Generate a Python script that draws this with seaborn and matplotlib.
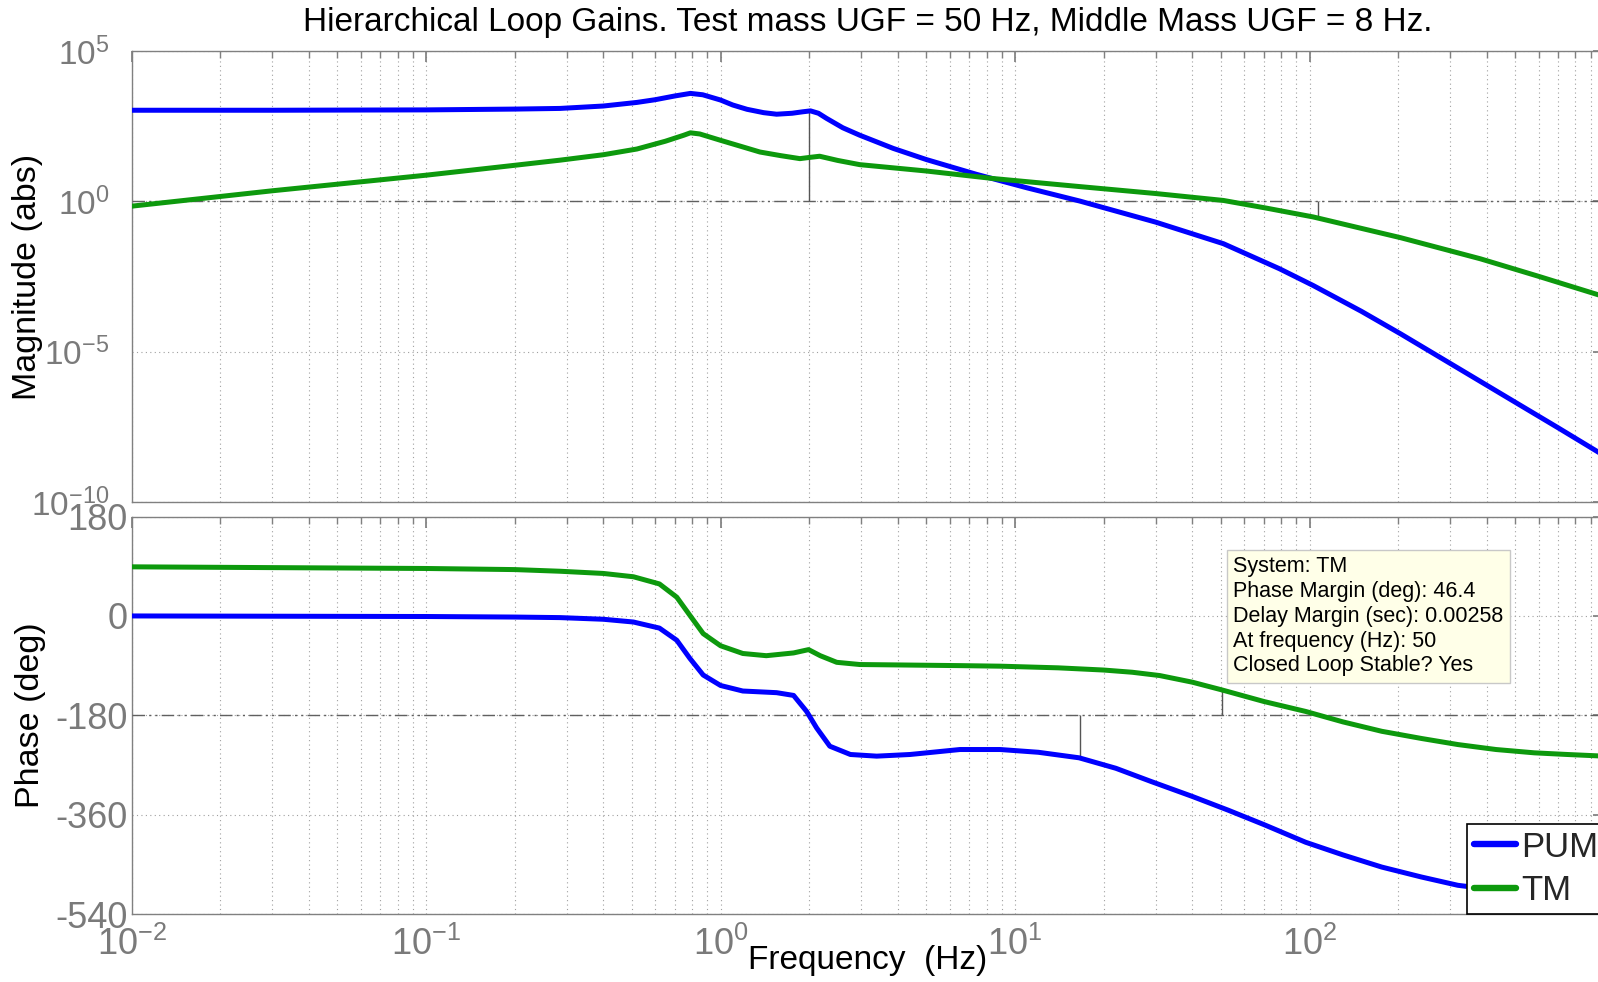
import numpy as np
import pandas as pd
import matplotlib
matplotlib.use("Agg")
import matplotlib.pyplot as plt
import seaborn as sns
from matplotlib.ticker import LogLocator, NullFormatter, NullLocator, FixedLocator

# ---------------- data ----------------
pum_mag_f = [0.01, 0.03, 0.1, 0.2, 0.285, 0.4, 0.52, 0.6, 0.7, 0.79, 0.87, 1.0, 1.1, 1.23, 1.4,
             1.55, 1.75, 1.9, 2.02, 2.15, 2.29, 2.6, 2.97, 3.86, 5.0, 7.4, 11, 16.6, 30, 51,
             79, 103, 150, 204, 292, 491, 700, 1000]
pum_mag = [1.07e3, 1.07e3, 1.10e3, 1.17e3, 1.23e3, 1.48e3, 1.95e3, 2.4e3, 3.2e3, 3.89e3,
           3.5e3, 2.34e3, 1.6e3, 1.15e3, 8.9e2, 7.9e2, 8.5e2, 9.5e2, 1.02e3, 8.5e2, 5.75e2,
           2.8e2, 1.58e2, 57.5, 24.5, 7.9, 2.8, 1.02, 0.204, 0.039, 5.75e-3, 1.58e-3, 2.2e-4,
           3.9e-5, 4.8e-6, 2.3e-7, 2.9e-8, 3.5e-9]

tm_mag_f = [0.01, 0.03, 0.1, 0.2, 0.285, 0.4, 0.52, 0.65, 0.75, 0.79, 0.85, 1.0, 1.2, 1.36,
            1.6, 1.86, 2.0, 2.17, 2.5, 2.97, 5.0, 8.4, 16.6, 30, 51, 71, 103, 204, 380, 600,
            1000]
tm_mag = [0.69, 2.24, 7.4, 15.8, 23.4, 35.5, 55, 100, 158, 190, 174, 107, 63, 43.7, 33.1,
          26.3, 28.8, 31.6, 22.9, 16.6, 10.2, 5.75, 3.09, 1.82, 1.07, 0.6, 0.302, 0.0617,
          0.0123, 3.2e-3, 6.8e-4]

pum_ph_f = [0.01, 0.1, 0.2, 0.285, 0.4, 0.506, 0.62, 0.71, 0.787, 0.873, 1.0, 1.19, 1.55, 1.77,
            1.96, 2.12, 2.35, 2.76, 3.39, 4.4, 6.5, 8.9, 12, 16.5, 22, 29, 40, 53, 70, 97, 130,
            176, 240, 319, 450, 600, 1000]
pum_ph = [0, -1, -2, -3, -6, -11, -22, -44, -77, -107, -126, -136, -139, -144, -173, -203,
          -236, -251, -254, -251, -242, -242, -247, -257, -276, -300, -327, -352, -378, -410,
          -433, -455, -473, -488, -498, -505, -515]

tm_ph_f = [0.01, 0.1, 0.2, 0.285, 0.4, 0.506, 0.62, 0.71, 0.787, 0.873, 1.0, 1.19, 1.43, 1.77,
           1.99, 2.18, 2.48, 2.97, 6.5, 8.9, 14, 20, 25, 31, 40, 50.4, 70, 97, 130, 176, 240,
           319, 430, 580, 750, 1000]
tm_ph = [89, 86, 84, 81, 77, 71, 58, 34, 1, -32, -54, -68, -72, -67, -61, -72, -84, -88, -90,
         -91, -94, -98, -102, -108, -120, -134, -155, -173, -192, -209, -222, -233, -242,
         -248, -251, -254]

# margin markers (frequency, value on curve)
mag_marker_f = [2.0, 107]
mag_marker_v = [1.02e3, 0.28]
ph_marker_f = [16.6, 50.4]
ph_marker_v = [-257, -134]

series_names = ["PUM", "TM"]
series_colors = ["#0000ff", "#0d990d"]

mag_ticks = [1e-10, 1e-5, 1e0, 1e5]
mag_ticklabels = [r"$\mathregular{10^{-10}}$", r"$\mathregular{10^{-5}}$",
                  r"$\mathregular{10^{0}}$", r"$\mathregular{10^{5}}$"]
ph_ticks = [-540, -360, -180, 0, 180]
ph_ticklabels = ["-540", "-360", "-180", "0", "180"]
f_ticks = [1e-2, 1e-1, 1e0, 1e1, 1e2]
f_ticklabels = [r"$\mathregular{10^{-2}}$", r"$\mathregular{10^{-1}}$",
                r"$\mathregular{10^{0}}$", r"$\mathregular{10^{1}}$", r"$\mathregular{10^{2}}$"]

title = "Hierarchical Loop Gains. Test mass UGF = 50 Hz, Middle Mass UGF = 8 Hz."
info_text = ("System: TM\nPhase Margin (deg): 46.4\nDelay Margin (sec): 0.00258\n"
             "At frequency (Hz): 50\nClosed Loop Stable? Yes")

# ---------------- style ----------------
sns.set_theme(style="white")
plt.rcParams["font.family"] = ["Liberation Sans", "DejaVu Sans"]
plt.rcParams["mathtext.fontset"] = "custom"
plt.rcParams["mathtext.rm"] = "Liberation Sans"
plt.rcParams["mathtext.it"] = "Liberation Sans:italic"
plt.rcParams["axes.unicode_minus"] = False

W, H = 1598, 982
fig = plt.figure(figsize=(W / 100, H / 100), dpi=100)
left = 131.6 / W
width = 1472.4 / W
ax1 = fig.add_axes([left, (H - 502) / H, width, (502 - 51) / H])
ax2 = fig.add_axes([left, (H - 914) / H, width, (914 - 516.6) / H])

grid_c = "#a0a0a0"
spine_c = "#808080"
tick_c = "#7a7a7a"
lw = 3.6

df_mag = pd.concat([
    pd.DataFrame({"f": pum_mag_f, "v": pum_mag, "sys": "PUM"}),
    pd.DataFrame({"f": tm_mag_f, "v": tm_mag, "sys": "TM"}),
])
df_ph = pd.concat([
    pd.DataFrame({"f": pum_ph_f, "v": pum_ph, "sys": "PUM"}),
    pd.DataFrame({"f": tm_ph_f, "v": tm_ph, "sys": "TM"}),
])
pal = dict(zip(series_names, series_colors))

for ax in (ax1, ax2):
    ax.set_xscale("log")
ax1.set_yscale("log")

sns.lineplot(data=df_mag, x="f", y="v", hue="sys", palette=pal, estimator=None, sort=False,
             linewidth=lw, ax=ax1, legend=False, zorder=5)
sns.lineplot(data=df_ph, x="f", y="v", hue="sys", palette=pal, estimator=None, sort=False,
             linewidth=lw, ax=ax2, legend=True, zorder=5)
for ax in (ax1, ax2):
    for ln in ax.get_lines():
        ln.set_solid_joinstyle("round")
        ln.set_solid_capstyle("round")

ax1.set_xlim(1e-2, 1e3)
ax2.set_xlim(1e-2, 1e3)
ax1.set_ylim(1e-10, 1e5)
ax2.set_ylim(-540, 180)

for ax in (ax1, ax2):
    ax.xaxis.set_major_locator(FixedLocator(f_ticks))
    ax.xaxis.set_minor_locator(LogLocator(base=10, subs=np.arange(2, 10), numticks=100))
    ax.xaxis.set_minor_formatter(NullFormatter())
    ax.grid(True, which="both", axis="x", ls=(0, (1, 3)), color=grid_c, lw=0.8)
    ax.grid(True, which="major", axis="y", ls=(0, (1, 3)), color=grid_c, lw=0.8)
    ax.tick_params(which="both", direction="in", top=True, right=True, colors=spine_c,
                   labelcolor=tick_c, labelsize=26, pad=3)
    ax.tick_params(which="major", length=8)
    ax.tick_params(which="minor", length=5)
    for s in ax.spines.values():
        s.set_color(spine_c)
        s.set_linewidth(1.0)
    ax.set_xlabel("")
    ax.set_ylabel("")

ax1.set_yticks(mag_ticks)
ax1.set_yticklabels(mag_ticklabels)
ax1.yaxis.set_minor_locator(NullLocator())
ax1.set_xticklabels([])
ax1.tick_params(axis="y", pad=16, labelsize=24)
ax2.set_yticks(ph_ticks)
ax2.set_yticklabels(ph_ticklabels)
ax2.set_xticks(f_ticks)
ax2.set_xticklabels(f_ticklabels)
ax2.tick_params(axis="x", pad=9)

# dash-dot reference lines
ax1.axhline(1.0, color="#606060", lw=1.0, ls=(0, (9, 3, 1.5, 3, 1.5, 3)), zorder=3)
ax2.axhline(-180, color="#606060", lw=1.0, ls=(0, (9, 3, 1.5, 3, 1.5, 3)), zorder=3)

# margin markers
ax1.vlines(mag_marker_f, [1.0, 1.0], mag_marker_v, color="#555555", lw=1.0, zorder=4)
ax2.vlines(ph_marker_f, [-180, -180], ph_marker_v, color="#555555", lw=1.0, zorder=4)

# labels and title
fig.text((131.6 + 1472.4 / 2) / W, 1 - 23 / H, title, fontsize=24, color="black",
         ha="center", va="center")
ax1.set_ylabel("Magnitude (abs)", fontsize=24.5, color="black")
ax2.set_ylabel("Phase (deg)", fontsize=24.5, color="black")
ax1.yaxis.set_label_coords(-0.060, 0.5)
ax2.yaxis.set_label_coords(-0.058, 0.5)
ax2.set_xlabel("Frequency  (Hz)", fontsize=24, color="black")
ax2.xaxis.set_label_coords(0.5, -0.078)

# legend
handles, labels = ax2.get_legend_handles_labels()
for h in handles:
    h.set_linewidth(lw + 1)
leg = ax2.legend(handles, labels, loc="lower left", bbox_to_anchor=(0.907, 0.0),
                 borderaxespad=0, fontsize=25, frameon=True, fancybox=False,
                 handlelength=1.2, handletextpad=0.15, labelspacing=0.3, borderpad=0.2)
leg.get_frame().set_edgecolor("black")
leg.get_frame().set_linewidth(1.2)
leg.get_frame().set_facecolor("white")
leg.get_frame().set_alpha(1)
leg.set_zorder(10)

# data-tip box
fig.text(1233 / W, 1 - 556 / H, info_text, fontsize=15.5, color="black", va="top", ha="left",
         linespacing=1.24, zorder=20,
         bbox=dict(boxstyle="square,pad=0.3", fc="#ffffe8", ec="#c8c8c8", lw=1))

fig.savefig("out.png", dpi=100)
